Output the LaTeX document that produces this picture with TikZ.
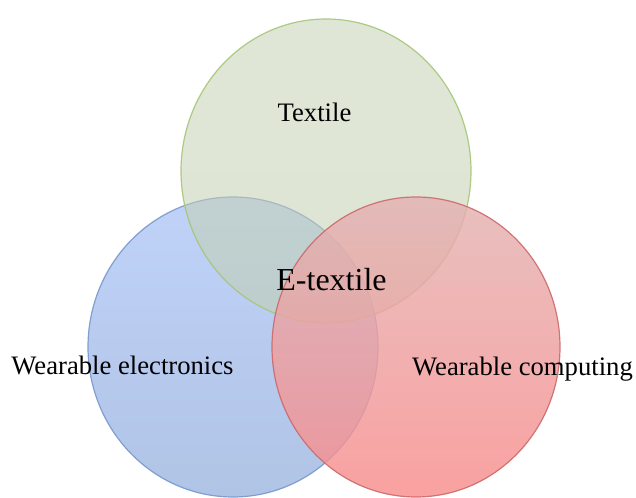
\documentclass[tikz,border=0pt]{standalone}
\usepackage{fontspec}
\setmainfont{Liberation Serif}
\definecolor{textiletop}{RGB}{198,210,180}
\definecolor{textilebot}{RGB}{194,207,176}
\definecolor{textileline}{RGB}{165,198,120}
\definecolor{electop}{RGB}{192,210,248}
\definecolor{elecbot}{RGB}{176,196,230}
\definecolor{elecline}{RGB}{120,152,205}
\definecolor{comptop}{RGB}{227,178,178}
\definecolor{compbot}{RGB}{249,140,140}
\definecolor{compline}{RGB}{205,105,105}
\begin{document}
\begin{tikzpicture}[x=0.75pt, y=-0.75pt,
    venn/.style={draw opacity=0.9, line width=0.9pt},
    vennlabel/.style={anchor=base, font=\fontsize{20}{24}\selectfont},
    vennmid/.style={anchor=base, font=\fontsize{24}{28}\selectfont}]
    \useasboundingbox (0,0) rectangle (636,498);

    % the three sets
    \shade[venn, draw=elecline, top color=electop, bottom color=elecbot] (233,347) ellipse (145 and 150);
    \shade[venn, fill opacity=0.55, draw=textileline, top color=textiletop, bottom color=textilebot] (326,171) ellipse (145 and 152);
    \shade[venn, fill opacity=0.82, draw=compline, top color=comptop, bottom color=compbot] (416,347) ellipse (144 and 150);

    \node[vennlabel] (textile) at (314.5,122) {Textile};
    \node[vennmid] (etextile) at (331.5,291) {E-textile};
    \node[vennlabel] (electronics) at (122.5,375) {Wearable electronics};
    \node[vennlabel] (computing) at (522.5,376) {Wearable computing};
\end{tikzpicture}
\end{document}
